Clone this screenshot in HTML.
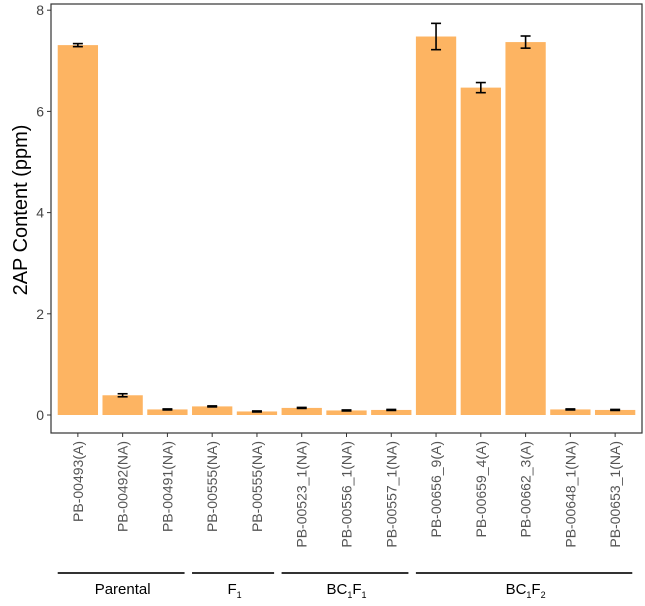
<!DOCTYPE html>
<html><head><meta charset="utf-8"><style>
body{margin:0;background:#fff;font-family:"Liberation Sans",Arial,sans-serif}
</style></head><body>
<svg id="chart" width="645" height="601" xmlns="http://www.w3.org/2000/svg" font-family="Liberation Sans, Arial, sans-serif"></svg>
<script>
const categories=["PB-00493(A)","PB-00492(NA)","PB-00491(NA)","PB-00555(NA)","PB-00555(NA)","PB-00523_1(NA)","PB-00556_1(NA)","PB-00557_1(NA)","PB-00656_9(A)","PB-00659_4(A)","PB-00662_3(A)","PB-00648_1(NA)","PB-00653_1(NA)"];
const values=[7.31,0.39,0.11,0.17,0.07,0.14,0.09,0.1,7.48,6.47,7.37,0.11,0.1];
const errors=[0.03,0.03,0.01,0.01,0.01,0.01,0.01,0.01,0.26,0.1,0.12,0.01,0.01];
const yTicks=[0,2,4,6,8];
const groups=[["Parental",0,2],["F1",3,4],["BC1F1",5,7],["BC1F2",8,12]];
const svg=document.getElementById('chart');const NS="http://www.w3.org/2000/svg";
function mk(t,a,p){const e=document.createElementNS(NS,t);for(const k in a)e.setAttribute(k,a[k]);(p||svg).appendChild(e);return e;}
const L=51,R=642,T=4,B=433;
const step=(R-L)/(categories.length-1+1.2);
const x=i=>L+step*(0.6+i);
const y=v=>415-v*50.6;
const bw=step*0.9;
const panel=mk('rect',{x:L,y:T,width:R-L,height:B-T,fill:'#fff',stroke:'#333','stroke-width':1.2});

yTicks.forEach(t=>{
 const tk=mk('line',{x1:L-4,x2:L,y1:y(t),y2:y(t),stroke:'#333'});
 
 const tx=mk('text',{x:L-7,y:y(t)+5,'text-anchor':'end','font-size':14,fill:'#444'});tx.textContent=t;
 
});
categories.forEach((c,i)=>{
 const b=mk('rect',{x:x(i)-bw/2,y:y(values[i]),width:bw,height:y(0)-y(values[i]),fill:'#FDB462'});
 
 const g=mk('g',{stroke:'#000','stroke-width':1.6});
 
 const hi=y(values[i]+errors[i]),lo=y(values[i]-errors[i]);
 mk('line',{x1:x(i),x2:x(i),y1:hi,y2:lo},g);
 mk('line',{x1:x(i)-5,x2:x(i)+5,y1:hi,y2:hi},g);
 mk('line',{x1:x(i)-5,x2:x(i)+5,y1:lo,y2:lo},g);
 const tk=mk('line',{x1:x(i),x2:x(i),y1:B,y2:B+4,stroke:'#333'});
 
 const tx=mk('text',{x:0,y:0,'text-anchor':'end','font-size':14,fill:'#555',transform:`translate(${x(i)+5},${B+8}) rotate(-90)`});
 tx.textContent=c;
});
groups.forEach(([n,a,b])=>{
 const ln=mk('line',{x1:x(a)-bw/2,x2:x(b)+bw/2-3,y1:573,y2:573,stroke:'#333','stroke-width':2});
 
 const tx=mk('text',{x:(x(a)+x(b))/2,y:594,'text-anchor':'middle','font-size':15,fill:'#000'});
 
 if(n==='F1')tx.innerHTML='F<tspan font-size="9" dy="4">1</tspan>';
 else if(n==='BC1F1')tx.innerHTML='BC<tspan font-size="9" dy="4">1</tspan><tspan dy="-4">F</tspan><tspan font-size="9" dy="4">1</tspan>';
 else if(n==='BC1F2')tx.innerHTML='BC<tspan font-size="9" dy="4">1</tspan><tspan dy="-4">F</tspan><tspan font-size="9" dy="4">2</tspan>';
 else tx.textContent=n;
});
const yt=mk('text',{x:0,y:0,'text-anchor':'middle','font-size':20,fill:'#000',transform:'translate(27,210) rotate(-90)'});
yt.textContent='2AP Content (ppm)';
</script>
</body></html>
